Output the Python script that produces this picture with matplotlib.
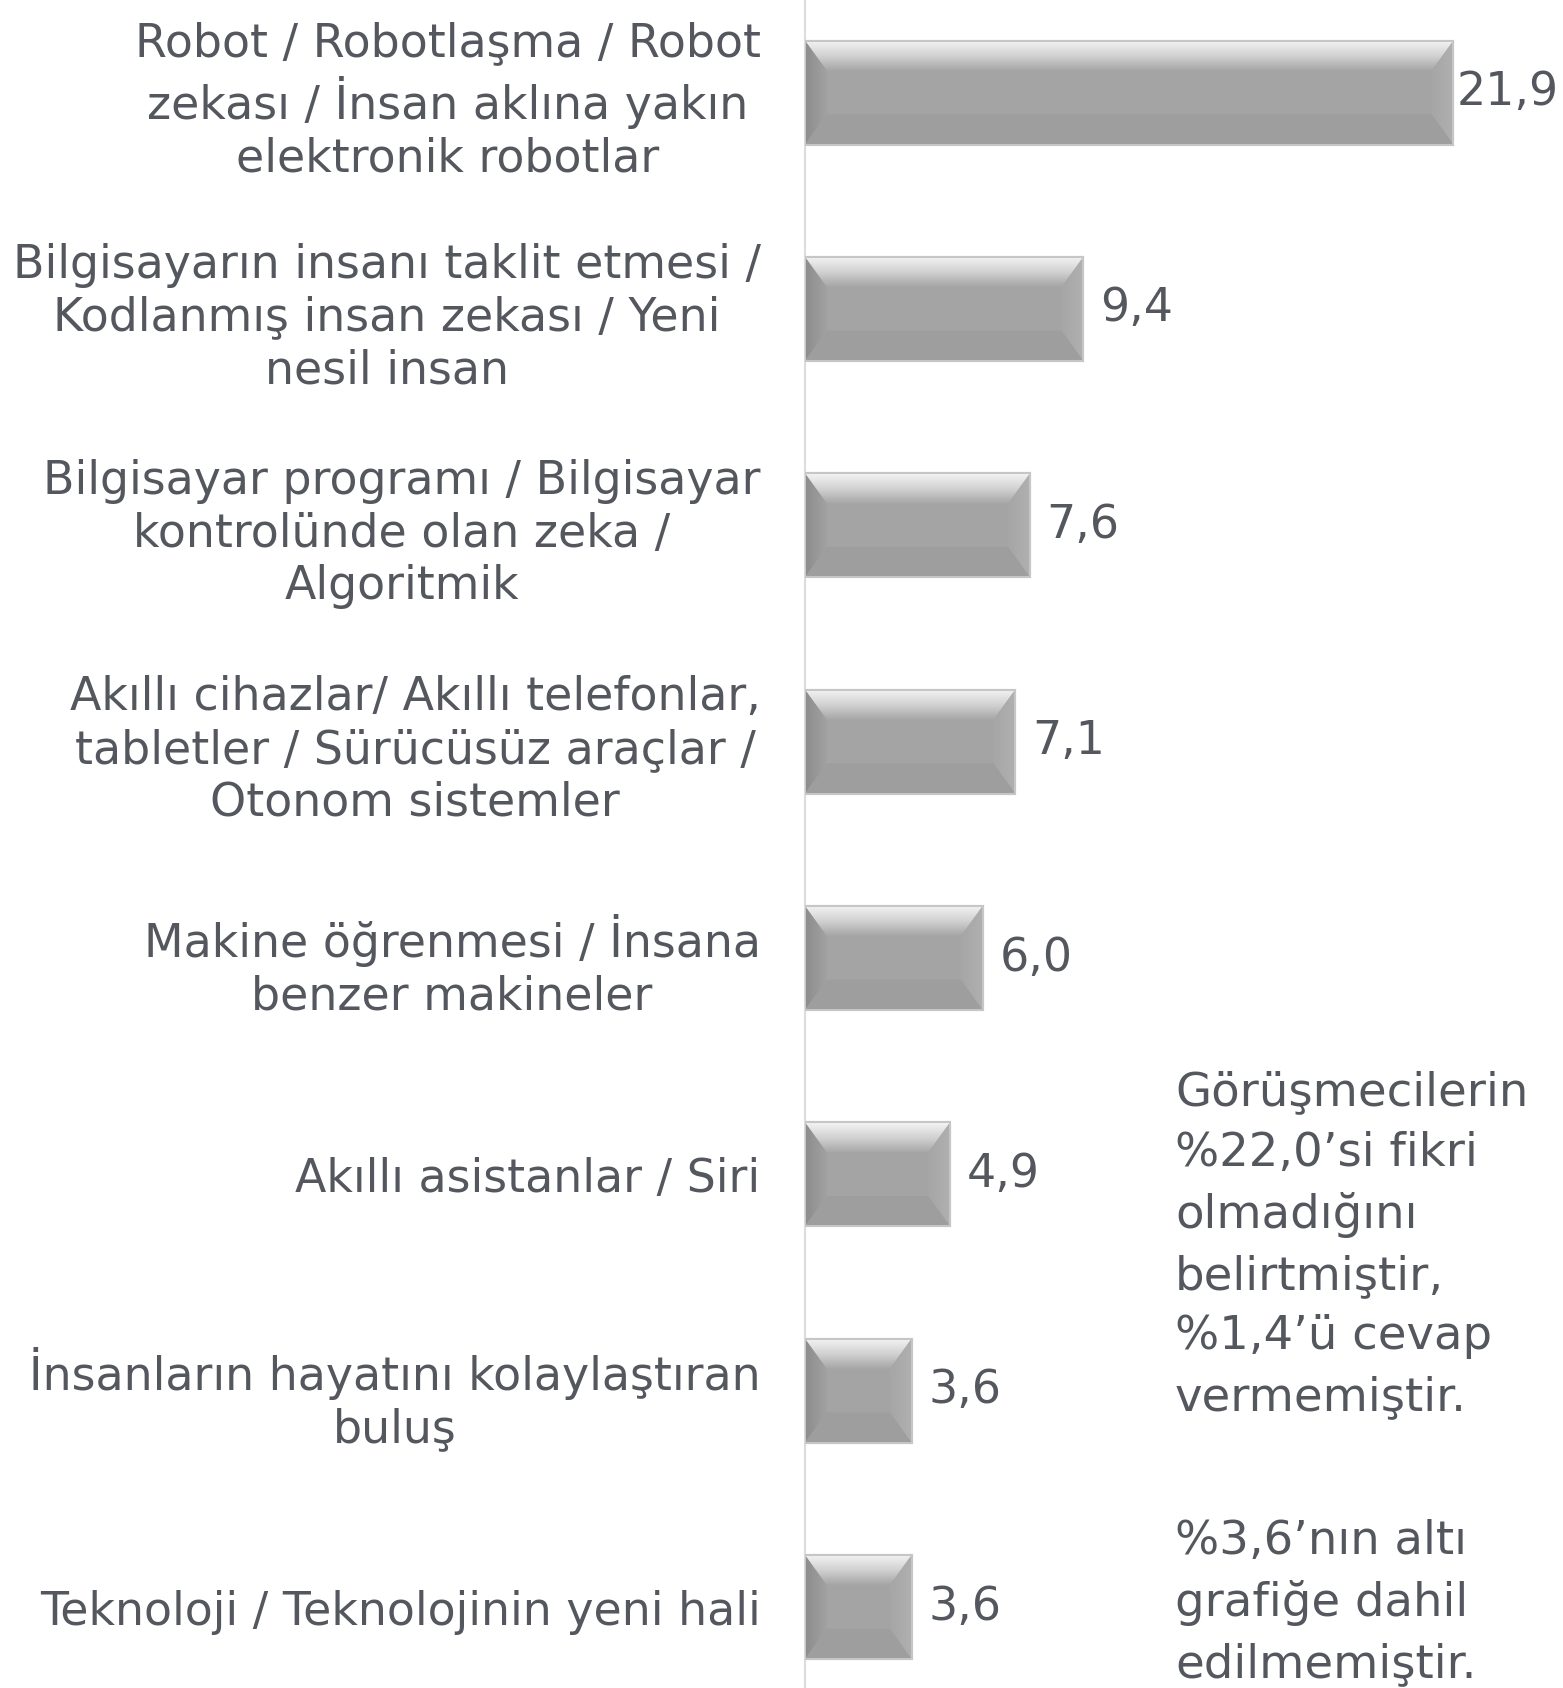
import numpy as np
import matplotlib
matplotlib.use('Agg')
from matplotlib import pyplot as plt
from matplotlib.patches import Polygon
from matplotlib.colors import LinearSegmentedColormap

categories = [
    'Robot / Robotlaşma / Robot\nzekası / İnsan aklına yakın\nelektronik robotlar',
    'Bilgisayarın insanı taklit etmesi /\nKodlanmış insan zekası / Yeni\nnesil insan',
    'Bilgisayar programı / Bilgisayar\nkontrolünde olan zeka /\nAlgoritmik',
    'Akıllı cihazlar/ Akıllı telefonlar,\ntabletler / Sürücüsüz araçlar /\nOtonom sistemler',
    'Makine öğrenmesi / İnsana\nbenzer makineler',
    'Akıllı asistanlar / Siri',
    'İnsanların hayatını kolaylaştıran\nbuluş',
    'Teknoloji / Teknolojinin yeni hali',
]
values = [21.9, 9.4, 7.6, 7.1, 6.0, 4.9, 3.6, 3.6]
value_labels = ['21,9', '9,4', '7,6', '7,1', '6,0', '4,9', '3,6', '3,6']
note_1 = 'Görüşmecilerin\n%22,0’si fikri\nolmadığını\nbelirtmiştir,\n%1,4’ü cevap\nvermemiştir.'
note_2 = '%3,6’nın altı\ngrafiğe dahil\nedilmemiştir.'

TEXT = '#54585e'
FONT = 'DejaVu Sans'
plt.rcParams['font.family'] = [FONT]

fig = plt.figure(figsize=(15.63, 16.88), dpi=100)
ax = fig.add_axes([805 / 1563, 0, 1 - 805 / 1563, 1])

y = np.arange(len(values))
bars = ax.barh(y, values, height=0.48, color='#a4a4a4', edgecolor='#c6c6c6',
               linewidth=1.5, zorder=2)

# bevel look, built from each bar's own rectangle
bx = 0.74   # data units horizontally
by = 0.14   # data units vertically
top_cmap = LinearSegmentedColormap.from_list('top', ['#f4f4f4', '#d2d2d2', '#a6a6a6'])
left_cmap = LinearSegmentedColormap.from_list('left', ['#8c8c8c', '#a2a2a2'])
right_cmap = LinearSegmentedColormap.from_list('right', ['#a6a6a6', '#b0b0b0'])
for p in bars.patches:
    x0, w = p.get_x(), p.get_width()
    yt, h = p.get_y(), p.get_height()
    x1, yb = x0 + w, yt + h

    top = Polygon([(x0, yt), (x1, yt), (x1 - bx, yt + by), (x0 + bx, yt + by)],
                  closed=True, facecolor='none', edgecolor='none', transform=ax.transData)
    ax.add_patch(top)
    im = ax.imshow(np.linspace(0, 1, 50).reshape(-1, 1), cmap=top_cmap, aspect='auto',
                   extent=(x0, x1, yt + by, yt), origin='upper', zorder=3)
    im.set_clip_path(top)

    left = Polygon([(x0, yt), (x0 + bx, yt + by), (x0 + bx, yb - by), (x0, yb)],
                   closed=True, facecolor='none', edgecolor='none', transform=ax.transData)
    ax.add_patch(left)
    im2 = ax.imshow(np.linspace(0, 1, 50).reshape(1, -1), cmap=left_cmap, aspect='auto',
                    extent=(x0, x0 + bx, yb, yt), origin='upper', zorder=3)
    im2.set_clip_path(left)

    right = Polygon([(x1, yt), (x1 - bx, yt + by), (x1 - bx, yb - by), (x1, yb)],
                    closed=True, facecolor='none', edgecolor='none', transform=ax.transData)
    ax.add_patch(right)
    im3 = ax.imshow(np.linspace(0, 1, 50).reshape(1, -1), cmap=right_cmap, aspect='auto',
                    extent=(x1 - bx, x1, yb, yt), origin='upper', zorder=3)
    im3.set_clip_path(right)

    ax.add_patch(Polygon([(x0, yb), (x0 + bx, yb - by), (x1 - bx, yb - by), (x1, yb)],
                         closed=True, facecolor='#9e9e9e', edgecolor='none', zorder=3))
    ax.add_patch(Polygon([(x0, yt), (x1, yt), (x1, yb), (x0, yb)], closed=True,
                         facecolor='none', edgecolor='#c6c6c6', linewidth=1.5, zorder=4))

ax.set_xlim(0, 25.6)
ax.set_ylim(7.374, -0.428)

pads = [2, 12, 12, 12, 12, 12, 12, 12]
for p, lab, pad in zip(bars.patches, value_labels, pads):
    ax.annotate(lab, (p.get_x() + p.get_width(), p.get_y() + p.get_height() / 2),
                xytext=(pad, 0), textcoords='offset points', ha='left', va='center',
                fontsize=33, color=TEXT, zorder=5)

ax.set_yticks(y)
ax.set_yticklabels(categories, fontsize=33, color=TEXT, multialignment='center',
                   linespacing=1.22)
ax.tick_params(axis='y', length=0, pad=32)
ax.set_xticks([])
for s in ['top', 'right', 'bottom']:
    ax.spines[s].set_visible(False)
ax.spines['left'].set_color('#dcdcdc')
ax.spines['left'].set_linewidth(1.5)

fig.text(1175 / 1563, 1 - 1070 / 1688, note_1, fontsize=33.5, color=TEXT, ha='left',
         va='top', linespacing=1.45)
fig.text(1175 / 1563, 1 - 1519 / 1688, note_2, fontsize=33.5, color=TEXT, ha='left',
         va='top', linespacing=1.45)

fig.savefig('out.png', dpi=100, facecolor='white')
